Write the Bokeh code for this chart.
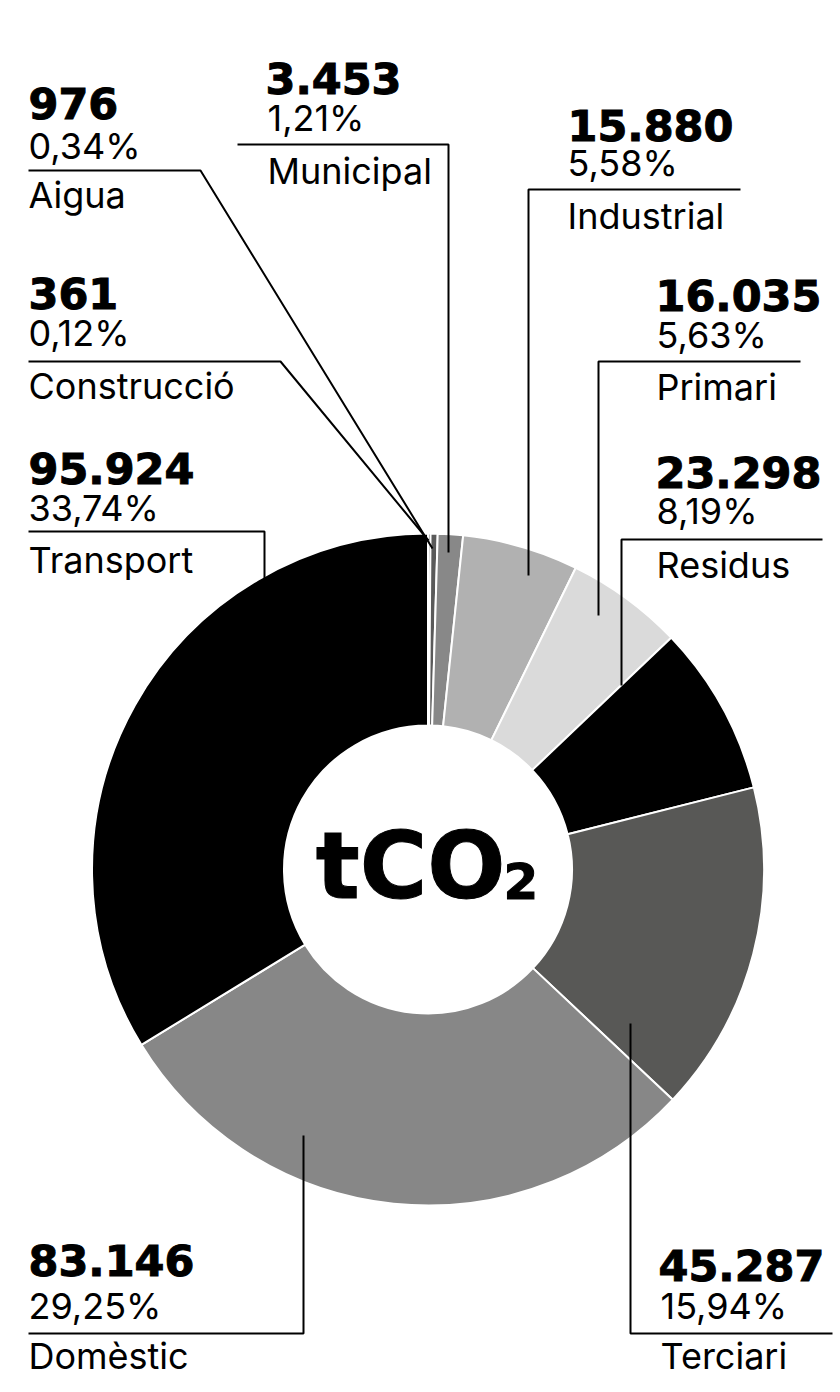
import math
from bokeh.plotting import figure
from bokeh.models import Range1d, ColumnDataSource
from bokeh.core.properties import value
from bokeh.embed import file_html
from bokeh.resources import INLINE

# ---- data ----
categories = ["Construcció", "Aigua", "Municipal", "Industrial", "Primari",
              "Residus", "Terciari", "Domèstic", "Transport"]
tonnes = [361, 976, 3453, 15880, 16035, 23298, 45287, 83146, 95924]
percent = [0.12, 0.34, 1.21, 5.58, 5.63, 8.19, 15.94, 29.25, 33.74]
colors = ["#000000", "#5a5a5a", "#888888", "#b1b1b1", "#dadada",
          "#000000", "#585856", "#878787", "#000000"]
center_label = "tCO"
center_sub = "2"

# ---- layout ----
W, H = 840, 1392
K = 0.35  # baseline correction (fraction of font size)


def Y(py):
    return H - py


def TY(py, size):
    return H - py + K * size


p = figure(width=W, height=H, x_range=Range1d(0, W), y_range=Range1d(0, H),
           output_backend="svg", toolbar_location=None, min_border=0,
           x_axis_location=None, y_axis_location=None)
p.grid.visible = False
p.outline_line_color = None
p.background_fill_color = "white"
p.border_fill_color = "white"

CX, CY = 427.5, Y(869)
R_OUT, R_IN = 336, 144

total = sum(percent)
starts, ends = [], []
cum = 0.0
for v in percent:
    starts.append(math.pi / 2 - 2 * math.pi * cum / total)
    cum += v
    ends.append(math.pi / 2 - 2 * math.pi * cum / total)

wsrc = ColumnDataSource(dict(start=starts, end=ends, color=colors))
p.annular_wedge(x=CX, y=CY, inner_radius=R_IN, outer_radius=R_OUT,
                start_angle="start", end_angle="end", direction="clock",
                fill_color="color", line_color="white", line_width=2, source=wsrc)

NS, PS, LS = 43, 36, 36

# label block layout (page pixel coords): x, number baseline, pct baseline, label baseline, leader polyline
layout = {
    "Aigua":       dict(x=28, lx=28, ny=118, py=158, ly=207, lead=[(28, 170), (200, 170), (432, 548)]),
    "Municipal":   dict(x=265, lx=267, ny=93, py=130, ly=183, lead=[(237, 144), (448, 144), (448, 552)]),
    "Industrial":  dict(x=567, lx=567, ny=140, py=175, ly=228, lead=[(740, 189), (528, 189), (528, 575)]),
    "Primari":     dict(x=655, lx=656, ny=310, py=347, ly=399, lead=[(800, 361), (598, 361), (598, 615)]),
    "Residus":     dict(x=655, lx=656, ny=487, py=523, ly=577, lead=[(822, 539), (621, 539), (621, 685)]),
    "Construcció": dict(x=28, lx=28, ny=308, py=345, ly=398, lead=[(28, 361), (280, 361), (428, 540)]),
    "Transport":   dict(x=28, lx=28, ny=483, py=520, ly=572, lead=[(28, 531), (264, 531), (264, 580)]),
    "Domèstic":    dict(x=28, lx=28, ny=1275, py=1318, ly=1368, lead=[(28, 1333), (303, 1333), (303, 1135)]),
    "Terciari":    dict(x=658, lx=660, ny=1280, py=1318, ly=1368, lead=[(832, 1333), (630, 1333), (630, 1023)]),
}

xs, ys = [], []
nx, ny, nt = [], [], []
px_, py_, pt = [], [], []
lx, ly, lt = [], [], []
for cat, t, pc in zip(categories, tonnes, percent):
    L = layout[cat]
    xs.append([a for a, b in L["lead"]])
    ys.append([Y(b) for a, b in L["lead"]])
    nx.append(L["x"]); ny.append(TY(L["ny"], NS)); nt.append(f"{t:,}".replace(",", "."))
    px_.append(L["lx"]); py_.append(TY(L["py"], PS)); pt.append(f"{pc:.2f}".replace(".", ",") + "%")
    lx.append(L["lx"]); ly.append(TY(L["ly"], LS)); lt.append(cat)

p.multi_line(xs=xs, ys=ys, line_color="black", line_width=2)

p.text(x=nx, y=ny, text=nt, text_font=value("DejaVu Sans"), text_font_style="bold",
       text_font_size=f"{NS}px", text_baseline="alphabetic", text_align="left",
       text_color="black", text_outline_color="black")
p.text(x=px_, y=py_, text=pt, text_font=value("Inter"),
       text_font_size=f"{PS}px", text_baseline="alphabetic", text_align="left", text_color="black")
p.text(x=lx, y=ly, text=lt, text_font=value("Inter"),
       text_font_size=f"{LS}px", text_baseline="alphabetic", text_align="left", text_color="black")

# center label
p.text(x=[505], y=[TY(898, 92)], text=[center_label], text_font=value("DejaVu Sans"), text_font_style="bold",
       text_font_size="92px", text_baseline="alphabetic", text_align="right",
       text_color="black", text_outline_color="black")
p.text(x=[503], y=[TY(898, 50)], text=[center_sub], text_font=value("DejaVu Sans"), text_font_style="bold",
       text_font_size="50px", text_baseline="alphabetic", text_align="left",
       text_color="black", text_outline_color="black")

open("out.html", "w").write(file_html(p, INLINE))
